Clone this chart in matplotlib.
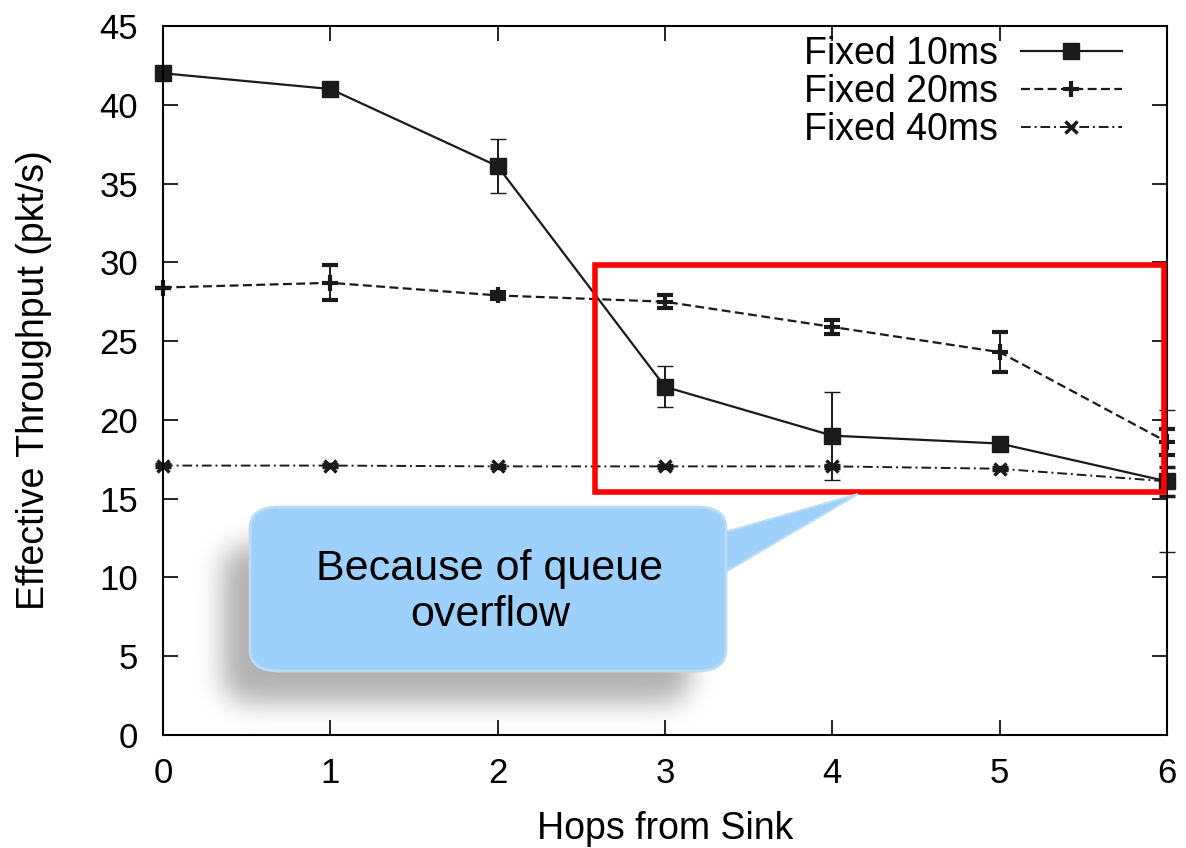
import numpy as np
import matplotlib.pyplot as plt
from matplotlib.lines import Line2D
from matplotlib.patches import FancyBboxPatch, Polygon, Rectangle

plt.rcParams['font.family'] = ['Liberation Sans', 'DejaVu Sans']

# data
hops = [0, 1, 2, 3, 4, 5, 6]
t10 = [42.0, 41.0, 36.1, 22.1, 19.0, 18.5, 16.1]
t10_err = [0.0, 0.0, 1.7, 1.3, 2.8, 0.3, 4.5]
t20 = [28.4, 28.7, 27.9, 27.5, 25.9, 24.3, 18.6]
t20_err = [0.0, 1.1, 0.2, 0.4, 0.45, 1.25, 0.8]
t40 = [17.1, 17.1, 17.05, 17.05, 17.05, 16.9, 16.1]
t40_err = [0.1, 0.1, 0.1, 0.1, 0.1, 0.1, 0.9]
labels = ['Fixed 10ms', 'Fixed 20ms', 'Fixed 40ms']

W, H = 1186, 848
fig = plt.figure(figsize=(W / 100, H / 100), dpi=100)
ax = fig.add_axes([163 / W, 1 - 735 / H, (1167 - 163) / W, (735 - 26) / H])

lc = '#1a1a1a'
styles = [
    dict(ls='-', marker='s', ms=11, mew=1, lw=1.6),
    dict(ls=(0, (4, 2)), marker='+', ms=11, mew=3, lw=1.6),
    dict(ls=(0, (5, 2, 1, 2)), marker='x', ms=8, mew=2.5, lw=1.4),
]
series = [(t10, t10_err), (t20, t20_err), (t40, t40_err)]
for (vals, errs), st in zip(series, styles):
    ax.errorbar(hops, vals, yerr=errs, color=lc, capsize=6, elinewidth=1.4,
                capthick=1.4, clip_on=False, **st)

ax.set_xlim(0, 6)
ax.set_ylim(0, 45)
ax.set_xticks(range(0, 7))
ax.set_yticks(range(0, 46, 5))
ax.tick_params(direction='in', length=11, width=1.2, top=True, right=True,
               labelsize=25, colors='black')
ax.tick_params(axis='y', pad=18)
ax.tick_params(axis='x', pad=16)
for s in ax.spines.values():
    s.set_linewidth(1.5)
ax.set_xlabel('Hops from Sink', fontsize=27, labelpad=15)
ax.set_ylabel('Effective Throughput (pkt/s)', fontsize=27, labelpad=34)

handles = [Line2D([], [], color=lc, **st) for st in styles]
ax.legend(handles, labels, loc='upper right', frameon=False, fontsize=27,
          markerfirst=False, handlelength=2.7, labelspacing=0.05,
          handletextpad=0.6, borderaxespad=0, borderpad=0,
          bbox_to_anchor=(1122 / W, 1 - 36 / H), bbox_transform=fig.transFigure)

# red highlight box
ax.add_patch(Rectangle((2.58, 15.4), 3.4, 14.4, fill=False, ec='#ff0000',
                       lw=4, clip_on=False, zorder=5))


def fx(px):
    return px / W


def fy(py):
    return 1 - py / H


# soft shadow behind the callout, blurred in pixel space
yy, xx = np.mgrid[0:H, 0:W]
x0, x1, y0, y1, r = 222, 690, 545, 702, 25
cx = np.clip(xx, x0 + r, x1 - r)
cy = np.clip(yy, y0 + r, y1 - r)
mask = (((xx - cx) ** 2 + (yy - cy) ** 2) <= r * r).astype(float)
k = np.exp(-0.5 * (np.arange(-40, 41) / 13.0) ** 2)
k /= k.sum()
mask = np.apply_along_axis(lambda m: np.convolve(m, k, mode='same'), 1, mask)
mask = np.apply_along_axis(lambda m: np.convolve(m, k, mode='same'), 0, mask)
shadow = np.zeros((H, W, 4))
shadow[..., :3] = 0.45
shadow[..., 3] = mask * 0.55
fig.figimage(shadow, xo=0, yo=0, origin='upper', zorder=6)

# callout tail
fig.add_artist(Polygon([(fx(722), fy(533)), (fx(858), fy(494)),
                        (fx(722), fy(574))], closed=True,
                       transform=fig.transFigure, fc='#9dd0fa',
                       ec='#bcdcf2', lw=1.5, zorder=7))
# callout body
fig.add_artist(FancyBboxPatch((fx(250), fy(671)), fx(476), fy(0) - fy(164),
                              boxstyle='round,pad=0,rounding_size=0.025',
                              transform=fig.transFigure, fc='#9dd0fa',
                              ec='#bcdcf2', lw=2, zorder=8))
fig.text(fx(490), fy(592), 'Because of queue\noverflow', ha='center',
         va='center', fontsize=31, linespacing=1.2, zorder=9)

fig.savefig('out.png', dpi=100)
